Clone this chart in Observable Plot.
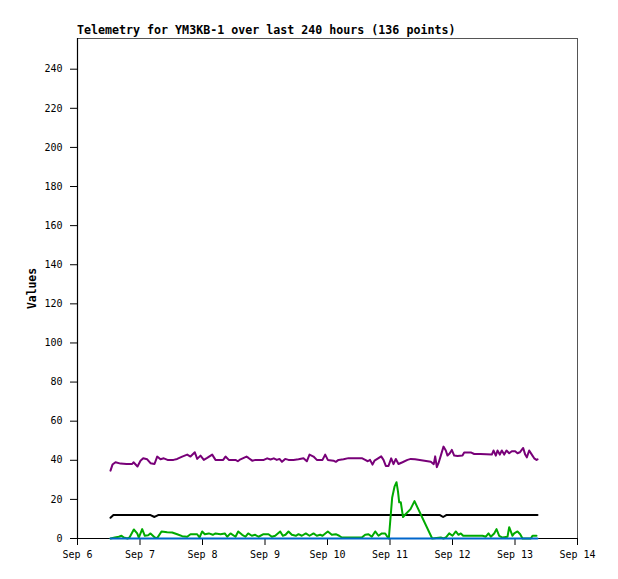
<!DOCTYPE html>
<html>
<head>
<meta charset="utf-8">
<script src="https://cdn.jsdelivr.net/npm/d3@7"></script>
<script src="https://cdn.jsdelivr.net/npm/@observablehq/plot@0.6"></script>
<style>
  html, body { margin: 0; padding: 0; background: #fff; }
  #wrap { position: relative; width: 618px; height: 579px; }
  #title { position: absolute; z-index: 2; left: 77px; top: 24px; font-family: "DejaVu Sans Mono", monospace; font-weight: bold; font-size: 11.65px; line-height: 12px; white-space: nowrap; color: #000; }
  #chart { position: absolute; z-index: 1; left: 0; top: 30px; }
  #chart svg { background: transparent !important; }
</style>
</head>
<body>
<div id="wrap">
  <div id="title">Telemetry for YM3KB-1 over last 240 hours (136 points)</div>
  <div id="chart"></div>
</div>
<script>
// Times are fractional days of September
const purpleDays = [6.528,6.560,6.608,6.688,6.784,6.875,6.896,6.960,7.008,7.051,7.115,7.168,7.232,7.275,7.328,7.381,7.440,7.536,7.595,7.675,7.755,7.808,7.877,7.915,7.968,8.021,8.075,8.155,8.208,8.331,8.368,8.421,8.528,8.565,8.608,8.704,8.736,8.795,8.848,8.981,9.035,9.088,9.141,9.189,9.232,9.272,9.323,9.376,9.456,9.536,9.616,9.669,9.712,9.776,9.829,9.920,9.963,10.005,10.096,10.133,10.176,10.256,10.336,10.448,10.549,10.603,10.645,10.680,10.720,10.752,10.816,10.859,10.896,10.933,10.976,11.019,11.056,11.093,11.136,11.200,11.280,11.333,11.400,11.653,11.700,11.723,11.749,11.776,11.813,11.856,11.893,11.920,11.957,11.989,12.027,12.080,12.160,12.187,12.293,12.347,12.448,12.629,12.656,12.693,12.720,12.757,12.789,12.827,12.864,12.907,12.949,13.003,13.040,13.077,13.131,13.163,13.189,13.227,13.269,13.307,13.344,13.360];
const purpleVals = [34.7,37.8,39.0,38.3,38.1,38.1,39.0,36.8,39.8,41.0,40.5,38.5,38.1,41.9,40.5,41.0,40.2,40.2,40.7,41.9,42.9,41.9,44.1,40.7,42.4,40.2,41.2,42.9,40.2,40.2,41.9,40.2,40.2,39.5,40.5,41.9,41.2,39.8,40.2,40.2,41.0,40.4,41.0,40.2,40.7,39.2,40.7,40.2,40.2,40.5,41.0,39.5,42.9,41.9,40.2,40.2,42.9,40.2,39.8,39.2,40.2,40.5,41.1,41.1,41.1,40.2,39.5,40.2,37.8,39.8,41.1,42.0,40.2,37.1,37.1,41.0,38.0,40.7,38.1,39.0,40.2,40.7,40.5,39.3,38.0,42.0,36.5,38.5,42.4,47.0,45.0,42.4,43.6,45.3,42.4,42.2,42.4,44.0,44.0,43.2,43.2,42.9,45.0,42.4,45.0,42.9,45.0,42.9,45.0,43.6,44.6,44.6,43.6,44.1,46.3,42.9,41.5,45.0,42.9,41.0,40.2,40.5];

const greenDays = [6.528,6.597,6.661,6.704,6.741,6.800,6.832,6.901,6.955,6.981,7.035,7.077,7.131,7.168,7.237,7.275,7.344,7.435,7.515,7.595,7.675,7.755,7.808,7.915,7.952,7.995,8.037,8.101,8.165,8.208,8.288,8.357,8.395,8.448,8.528,8.571,8.635,8.688,8.731,8.789,8.843,8.896,8.976,9.056,9.109,9.163,9.243,9.285,9.328,9.376,9.429,9.493,9.536,9.589,9.653,9.712,9.776,9.829,9.883,9.920,10.005,10.069,10.133,10.187,10.229,10.443,10.549,10.603,10.656,10.709,10.763,10.816,10.869,10.923,10.965,10.981,11.035,11.072,11.104,11.128,11.147,11.173,11.208,11.248,11.328,11.392,11.675,11.813,11.856,11.893,11.947,12.000,12.053,12.096,12.133,12.171,12.213,12.480,12.533,12.576,12.613,12.667,12.704,12.747,12.800,12.880,12.907,12.933,12.960,12.987,13.040,13.083,13.120,13.253,13.280,13.344];
const greenVals = [0,0.5,0.9,1.4,0.5,0,0.5,4.6,2.6,0.5,4.8,1.4,1.7,2.6,0.5,0.2,3.6,3.2,3.1,2.2,1.2,0.9,2.2,2.2,0.5,3.6,2.2,2.6,1.9,2.6,2.2,2.6,0.9,2.6,0.9,3.6,1.9,0.9,2.6,1.4,1.9,0.9,2.2,2.2,0.9,1.4,3.6,1.4,1.9,3.6,1.9,1.4,2.2,1.4,2.6,1.4,2.6,1.4,1.9,1.4,3.6,1.9,2.2,1.4,0.5,0.5,0.5,1.9,2.2,0.9,3.6,1.4,2.6,2.6,0.5,0,21.0,26.5,28.8,24.0,18.5,18.5,11.0,12.4,15.0,19.1,0,0.5,0,0.5,2.6,1.4,3.6,1.9,2.6,1.4,1.4,1.4,0.9,2.6,0.9,2.6,4.8,1.4,0.5,0.9,5.8,3.6,1.4,2.6,3.6,2.2,0,0,1.4,1.4];

const blackDays = [6.528,6.575,7.168,7.232,7.290,11.800,11.850,11.900,13.360];
const blackVals = [10.6,12,12,11,12,12,11,12,12];

const blueDays = [6.528,13.360];
const blueVals = [0,0];

const yTicks = [0,20,40,60,80,100,120,140,160,180,200,220,240];
const xTickDays = [6,7,8,9,10,11,12,13,14];

const D = d => new Date(Date.UTC(2024, 8, 1) + (d - 1) * 864e5);
const rows = (days, vals) => days.map((d, i) => ({t: D(d), v: vals[i]}));

const purple = rows(purpleDays, purpleVals);
const green = rows(greenDays, greenVals);
const black = rows(blackDays, blackVals);
const blue = rows(blueDays, blueVals);

const chart = Plot.plot({
  width: 618,
  height: 549,
  marginLeft: 77,
  marginRight: 41,
  marginTop: 8,
  marginBottom: 41,
  style: {fontFamily: "DejaVu Sans Mono, monospace", fontSize: "10px", color: "#000", background: "transparent"},
  x: {type: "utc", domain: [D(6), D(14)]},
  y: {domain: [0, 255.7]},
  marks: [
    Plot.frame({stroke: "#555", strokeWidth: 1}),
    Plot.ruleX([D(6)], {stroke: "#000", strokeWidth: 1.2}),
    Plot.ruleY([0], {stroke: "#000", strokeWidth: 1.2}),
    Plot.axisY({ticks: yTicks, tickSize: 7, tickPadding: 8, label: null, tickFormat: d => String(d)}),
    Plot.axisX({ticks: xTickDays.map(D), tickSize: 7, tickPadding: 5, label: null, tickFormat: d3.utcFormat("%b %-d")}),
    Plot.text(["Values"], {frameAnchor: "left", textAnchor: "middle", dx: -45, rotate: -90, fontWeight: "bold", fontSize: 11.4, fill: "#000"}),
    Plot.line(black, {x: "t", y: "v", stroke: "#000", strokeWidth: 2}),
    Plot.line(purple, {x: "t", y: "v", stroke: "#780078", strokeWidth: 2}),
    Plot.line(green, {x: "t", y: "v", stroke: "#00aa00", strokeWidth: 2}),
    Plot.line(blue, {x: "t", y: "v", stroke: "#0066cc", strokeWidth: 2})
  ]
});
document.getElementById("chart").appendChild(chart);
</script>
</body>
</html>
